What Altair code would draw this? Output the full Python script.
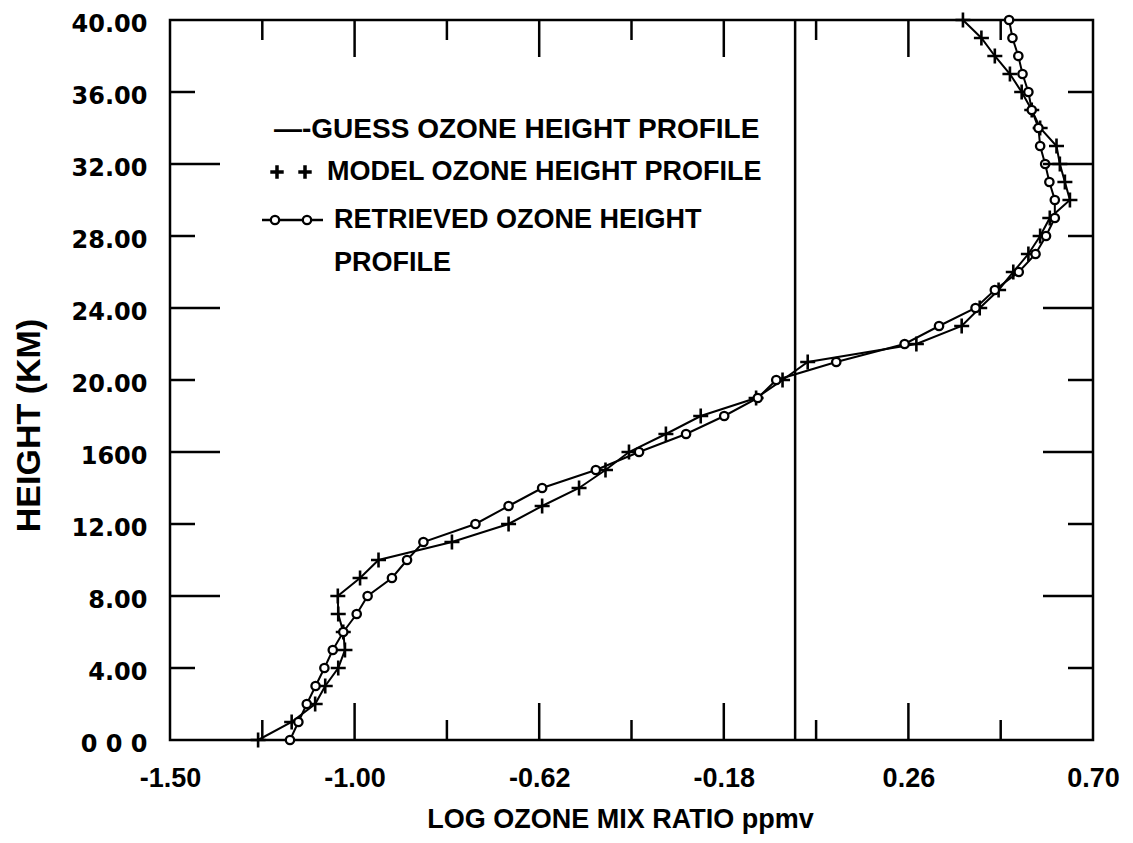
import altair as alt
import pandas as pd

# ---------------- data ----------------
heights = list(range(0, 41))
model_ozone = [-1.290, -1.210, -1.154, -1.130, -1.099, -1.083, -1.087, -1.099, -1.100, -1.047,
               -1.003, -0.828, -0.693, -0.613, -0.525, -0.462, -0.406, -0.318, -0.235, -0.103,
               -0.040, 0.020, 0.279, 0.387, 0.430, 0.475, 0.510, 0.546, 0.574, 0.597,
               0.645, 0.633, 0.621, 0.613, 0.574, 0.554, 0.530, 0.502, 0.466, 0.434,
               0.390]
retrieved_ozone = [-1.214, -1.194, -1.174, -1.153, -1.132, -1.112, -1.087, -1.055, -1.029, -0.971,
                   -0.935, -0.896, -0.772, -0.693, -0.613, -0.485, -0.382, -0.270, -0.179, -0.099,
                   -0.055, 0.088, 0.251, 0.333, 0.420, 0.466, 0.523, 0.563, 0.588, 0.609,
                   0.609, 0.596, 0.586, 0.574, 0.570, 0.554, 0.546, 0.532, 0.522, 0.508,
                   0.500]
guess_heights = [0, 40]
guess_ozone = [-0.01, -0.01]

x_label_values = [-1.50, -1.06, -0.62, -0.18, 0.26, 0.70]
x_label_text = ["-1.50", "-1.00", "-0.62", "-0.18", "0.26", "0.70"]
y_label_values = [0, 4, 8, 12, 16, 20, 24, 28, 32, 36, 40]
y_label_text = ["0 0 0", "4.00", "8.00", "12.00", "1600", "20.00", "24.00",
                "28.00", "32.00", "36.00", "40.00"]
x_major_ticks = [-1.06, -0.62, -0.18, 0.26]
x_minor_ticks = [-1.28, -0.84, -0.40, 0.04, 0.48]
y_major_ticks = [8, 16, 24, 32]
y_minor_ticks = [4, 12, 20, 28, 36]

legend_texts = ["\u2014-GUESS OZONE HEIGHT PROFILE", "MODEL OZONE HEIGHT PROFILE",
                "RETRIEVED OZONE HEIGHT", "PROFILE"]

x_title = "LOG OZONE MIX RATIO ppmv"
y_title = "HEIGHT (KM)"

# ---------------- chart ----------------
W, H = 923, 720
BOLD = "Liberation Sans"
CROSS = "M-1,0L1,0M0,-1L0,1"

xs = alt.Scale(domain=[-1.5, 0.7], nice=False, zero=False)
ys = alt.Scale(domain=[0, 40], nice=False, zero=False)


def label_expr(values, texts):
    parts = [f"abs(datum.value - ({v})) < 0.001 ? '{t}'" for v, t in zip(values, texts)]
    return " : ".join(parts) + " : ''"


x_axis = alt.Axis(values=x_label_values, labelExpr=label_expr(x_label_values, x_label_text),
                  ticks=False, tickSize=0, domain=False, grid=False, labelFlush=False,
                  labelOverlap=False, labelFont=BOLD, labelFontSize=27, labelFontWeight="bold",
                  labelColor="black", labelPadding=25,
                  title=x_title, titleFont=BOLD, titleFontSize=27, titleFontWeight="bold",
                  titleColor="black", titleX=450, titleY=87, titleAlign="center",
                  titleBaseline="alphabetic")
y_axis = alt.Axis(values=y_label_values, labelExpr=label_expr(y_label_values, y_label_text),
                  ticks=False, tickSize=0, domain=False, grid=False, labelFlush=False,
                  labelOverlap=False, labelFont="DejaVu Sans", labelFontSize=24,
                  labelFontWeight="bold", labelColor="black", labelPadding=23, labelOffset=4,
                  title=y_title, titleFont=BOLD, titleFontSize=34, titleFontWeight="bold",
                  titleColor="black", titleX=-141, titleY=405, titleAngle=270,
                  titleAlign="center", titleBaseline="middle")


def X(field):
    return alt.X(field, scale=xs, axis=x_axis)


def Y(field):
    return alt.Y(field, scale=ys, axis=y_axis)


profiles = pd.DataFrame({
    "height": heights,
    "model": model_ozone,
    "retrieved": retrieved_ozone,
})
guess_df = pd.DataFrame({"height": guess_heights, "ozone": guess_ozone})

base = alt.Chart(profiles)

model_line = base.mark_line(color="black", strokeWidth=2).encode(
    x=X("model:Q"), y=Y("height:Q"), order=alt.Order("height:Q"))
retrieved_line = base.mark_line(color="black", strokeWidth=2).encode(
    x=X("retrieved:Q"), y=Y("height:Q"), order=alt.Order("height:Q"))
model_pts = base.mark_point(shape=CROSS, size=225, filled=False, stroke="black",
                            strokeWidth=2.6, opacity=1).encode(
    x=X("model:Q"), y=Y("height:Q"))
retrieved_pts = base.mark_point(shape="circle", size=70, filled=True, fill="white",
                                stroke="black", strokeWidth=2.3, opacity=1).encode(
    x=X("retrieved:Q"), y=Y("height:Q"))
guess_line = alt.Chart(guess_df).mark_line(color="black", strokeWidth=2.5).encode(
    x=X("ozone:Q"), y=Y("height:Q"))


def xticks(vals, length):
    d = alt.Chart(pd.DataFrame({"v": vals}))
    bottom = d.mark_rule(color="black", strokeWidth=2.5).encode(
        x=X("v:Q"), y=alt.value(H), y2=alt.value(H - length))
    top = d.mark_rule(color="black", strokeWidth=2.5).encode(
        x=X("v:Q"), y=alt.value(0), y2=alt.value(length))
    return [bottom, top]


def yticks(vals, length):
    d = alt.Chart(pd.DataFrame({"v": vals}))
    left = d.mark_rule(color="black", strokeWidth=2.5).encode(
        y=Y("v:Q"), x=alt.value(0), x2=alt.value(length))
    right = d.mark_rule(color="black", strokeWidth=2.5).encode(
        y=Y("v:Q"), x=alt.value(W), x2=alt.value(W - length))
    return [left, right]


ticks = xticks(x_major_ticks, 37) + xticks(x_minor_ticks, 20) + \
    yticks(y_major_ticks, 50) + yticks(y_minor_ticks, 25)


def legend_text(txt, x, y, size=27):
    return alt.Chart(pd.DataFrame({"t": [txt]})).mark_text(
        align="left", baseline="middle", font=BOLD, fontSize=size, fontWeight="bold",
        color="black").encode(text="t:N", x=alt.value(x), y=alt.value(y))


one = pd.DataFrame({"k": [0]})
leg = [
    legend_text(legend_texts[0], 104, 110, 28),
    legend_text(legend_texts[1], 157, 152),
    legend_text(legend_texts[2], 164, 200),
    legend_text(legend_texts[3], 164, 243),
]
for px in (107, 135):
    leg.append(alt.Chart(one).mark_point(shape=CROSS, size=180, filled=False, stroke="black",
                                         strokeWidth=3.5, opacity=1).encode(
        x=alt.value(px), y=alt.value(152)))
leg.append(alt.Chart(one).mark_rule(color="black", strokeWidth=2.5).encode(
    x=alt.value(92), x2=alt.value(153), y=alt.value(200)))
for px in (105, 137):
    leg.append(alt.Chart(one).mark_point(shape="circle", size=70, filled=True, fill="white",
                                         stroke="black", strokeWidth=2.3, opacity=1).encode(
        x=alt.value(px), y=alt.value(200)))

chart = alt.layer(
    model_line, guess_line, retrieved_line, model_pts, retrieved_pts, *ticks, *leg
).properties(
    width=W, height=H,
    autosize=alt.AutoSizeParams(type="none"),
    padding={"left": 162, "top": 12, "right": 30, "bottom": 95},
    background="white",
).configure_view(stroke="black", strokeWidth=2.5)

chart.save("out.html", embed_options={"renderer": "svg", "actions": False})
